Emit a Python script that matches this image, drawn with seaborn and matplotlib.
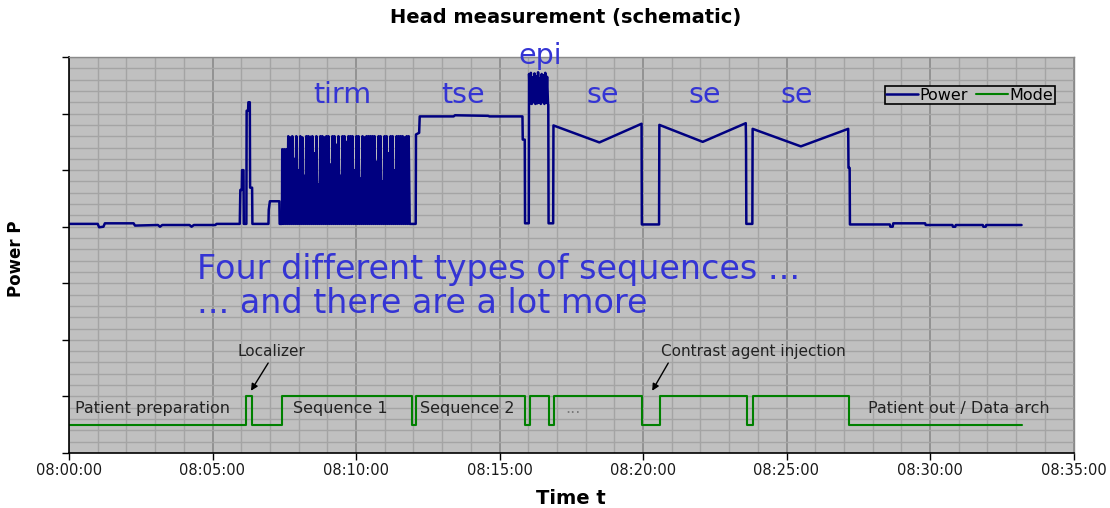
import numpy as np
import pandas as pd
import matplotlib
matplotlib.use("Agg")
import matplotlib.pyplot as plt
from matplotlib.ticker import MultipleLocator
import seaborn as sns

# ── Data (time in minutes after 08:00, power / mode in arbitrary units) ──
pre_t = [0.00, 1.00, 1.05, 1.20, 1.25, 2.25, 2.30, 3.10, 3.17, 3.25, 4.20, 4.27, 4.35, 5.10, 5.14, 5.95,
         5.97, 6.02, 6.03, 6.08, 6.09, 6.18, 6.19, 6.24, 6.25, 6.30, 6.31, 6.38, 6.39,
         6.95, 6.96, 7.00, 7.33, 7.34, 7.42]
pre_v = [4.05, 4.05, 3.99, 4.00, 4.06, 4.06, 4.02, 4.03, 4.00, 4.03, 4.03, 4.00, 4.03, 4.03, 4.05, 4.05,
         4.65, 4.65, 5.00, 5.00, 4.05, 4.05, 6.05, 6.05, 6.20, 6.20, 4.69, 4.69, 4.05,
         4.05, 4.30, 4.45, 4.45, 4.05, 4.05]

# tirm: peak of every RF pulse, the signal falls back to the baseline in between
tirm_tops = [5.37, 5.37, 5.37, 5.60, 5.58, 5.60, 5.20, 5.60, 5.00, 5.60, 5.58, 4.90, 5.60, 5.60, 5.59, 5.60,
             5.30, 5.60, 4.75, 5.60, 5.60, 5.58, 5.60, 5.60, 5.10, 5.60, 5.60, 5.45, 5.60, 4.90, 5.60, 5.60,
             5.50, 5.60, 5.60, 5.60, 5.00, 5.60, 5.60, 4.85, 5.60, 5.58, 5.60, 5.60, 5.60, 5.60, 5.60, 5.15,
             5.60, 5.60, 4.80, 5.60, 5.60, 5.30, 5.60, 5.60, 5.00, 5.60, 5.60, 5.60, 5.60, 5.58, 5.60, 5.60]
tirm_base = 4.05
tirm_start, tirm_end = 7.43, 11.87

mid_t = [11.88, 12.08, 12.09, 12.20, 12.22, 13.40, 13.45, 14.60, 14.65, 15.80, 15.81, 15.88, 15.89, 16.02]
mid_v = [4.05, 4.05, 5.63, 5.66, 5.95, 5.95, 5.97, 5.96, 5.95, 5.95, 5.54, 5.54, 4.06, 4.06]

epi_v = [6.70, 6.18, 6.72, 6.17, 6.64, 6.20, 6.71, 6.17, 6.66, 6.18, 6.73,
         6.19, 6.62, 6.17, 6.70, 6.20, 6.68, 6.17, 6.72, 6.19, 6.65, 6.17]
epi_start, epi_end = 16.03, 16.69

post_t = [16.70, 16.71, 16.87, 16.88, 18.48, 19.95, 19.96, 20.56, 20.57, 22.08, 23.58, 23.59, 23.60, 23.81,
          23.82, 25.50, 27.15, 27.16, 27.20, 27.21, 28.60, 28.62, 28.70, 28.72, 29.83, 29.85, 30.78, 30.80,
          30.88, 30.90, 31.84, 31.86, 31.94, 31.96, 33.19]
post_v = [6.16, 4.06, 4.06, 5.79, 5.49, 5.82, 4.04, 4.04, 5.80, 5.50, 5.83, 5.50, 4.05, 4.05,
          5.73, 5.42, 5.73, 5.04, 5.04, 4.04, 4.04, 4.00, 4.00, 4.06, 4.06, 4.03, 4.03, 4.00,
          4.00, 4.03, 4.03, 4.00, 4.00, 4.03, 4.03]

mode_t = [0.00, 6.17, 6.36, 7.41, 11.94, 12.09, 15.89, 16.06, 16.74, 16.91, 19.98, 20.59, 23.62, 23.82, 27.19, 33.22]
mode_v = [0.5, 1.0, 0.5, 1.0, 0.5, 1.0, 0.5, 1.0, 0.5, 1.0, 0.5, 1.0, 0.5, 1.0, 0.5, 0.5]

tick_minutes = [0, 5, 10, 15, 20, 25, 30, 35]
tick_labels = ["08:00:00", "08:05:00", "08:10:00", "08:15:00",
               "08:20:00", "08:25:00", "08:30:00", "08:35:00"]

seq_labels = ["tirm", "tse", "epi", "se", "se", "se"]
mode_labels = ["Patient preparation", "Sequence 1", "Sequence 2", "...", "Patient out / Data arch"]

# ── Assemble the power trace ────────────────────────────────
tirm_t = np.linspace(tirm_start, tirm_end, 2 * len(tirm_tops))
tirm_v = np.ravel([[top, tirm_base] for top in tirm_tops])
epi_t = np.linspace(epi_start, epi_end, len(epi_v))

power = pd.DataFrame({
    "t": np.concatenate([pre_t, tirm_t, mid_t, epi_t, post_t]),
    "P": np.concatenate([pre_v, tirm_v, mid_v, epi_v, post_v]),
})
mode = pd.DataFrame({"t": mode_t, "M": mode_v})

# ── Style ───────────────────────────────────────────────────
sns.set_style("ticks")
plt.rcParams["font.family"] = ["DejaVu Sans"]
plt.rcParams["text.color"] = "black"

fig = plt.figure(figsize=(11.1, 5.08), dpi=100)
ax = fig.add_axes([69 / 1110, 55 / 508, 1004.5 / 1110, 396 / 508])
ax.set_facecolor("#c0c0c0")

sns.lineplot(data=power, x="t", y="P", ax=ax, sort=False, estimator=None,
             color="#000080", linewidth=1.8, label="Power")
sns.lineplot(data=mode, x="t", y="M", ax=ax, sort=False, estimator=None,
             color="#008000", linewidth=1.5, drawstyle="steps-post", label="Mode")

ax.set_xlim(0, 35)
ax.set_ylim(0, 7)
ax.set_xticks(tick_minutes)
ax.set_xticklabels(tick_labels, fontsize=10.5, color="#1a1a1a")
ax.xaxis.set_minor_locator(MultipleLocator(1))
ax.yaxis.set_major_locator(MultipleLocator(1))
ax.yaxis.set_minor_locator(MultipleLocator(0.2))
ax.set_yticklabels([])
ax.tick_params(axis="both", which="major", direction="out", length=5, width=1, color="black")
ax.tick_params(axis="x", which="major", pad=2)
ax.tick_params(which="minor", length=0)

ax.set_axisbelow(True)
ax.grid(which="minor", color="#a4a4a4", linewidth=1.0)
ax.yaxis.grid(which="major", color="#a4a4a4", linewidth=1.0)
ax.xaxis.grid(which="major", color="#8a8a8a", linewidth=1.2)

for side in ["left", "bottom"]:
    ax.spines[side].set_color("black")
    ax.spines[side].set_linewidth(1.2)
for side in ["top", "right"]:
    ax.spines[side].set_color("#8a8a8a")
    ax.spines[side].set_linewidth(1.0)

ax.set_xlabel("Time t", fontsize=14, fontweight="bold", color="black")
ax.xaxis.set_label_coords(0.5, -0.09)
ax.set_ylabel("Power P", fontsize=12, fontweight="bold", color="black")
ax.yaxis.set_label_coords(-0.0438, 0.49)

fig.text(0.5095, 1 - 18 / 508, "Head measurement (schematic)",
         ha="center", va="center", fontsize=14, fontweight="bold", color="black")

# ── Sequence names above the trace ──────────────────────────
blue = "#3434d4"
for name, x, y in zip(seq_labels, [9.53, 13.74, 16.41, 18.6, 22.16, 25.37],
                      [6.19, 6.19, 6.87, 6.19, 6.19, 6.19]):
    ax.text(x, y, name, ha="center", va="baseline", fontsize=20.5, color=blue)

ax.text(4.46, 3.08, "Four different types of sequences ...", ha="left", va="baseline",
        fontsize=24, color=blue)
ax.text(4.46, 2.47, "... and there are a lot more", ha="left", va="baseline",
        fontsize=24, color=blue)

# ── Mode annotations ────────────────────────────────────────
grey_txt = "#222222"
for name, x in zip(mode_labels, [0.21, 7.8, 12.23, 17.28, 27.84]):
    ax.text(x, 0.78, name, ha="left", va="center", fontsize=11.5,
            color="#7a7a7a" if name == "..." else grey_txt)

arrow = dict(arrowstyle="-|>", color="black", lw=1.0, mutation_scale=10, shrinkA=0, shrinkB=0)
ax.text(7.07, 1.79, "Localizer", ha="center", va="center", fontsize=11, color=grey_txt)
ax.annotate("", xy=(6.34, 1.1), xytext=(6.94, 1.59), arrowprops=arrow)
ax.text(23.85, 1.79, "Contrast agent injection", ha="center", va="center",
        fontsize=11, color=grey_txt)
ax.annotate("", xy=(20.32, 1.1), xytext=(20.88, 1.59), arrowprops=arrow)

leg = ax.legend(loc="upper right", bbox_to_anchor=(0.9816, 0.9268), ncol=2, fontsize=11.5,
                frameon=True, fancybox=False, handlelength=2.0, handletextpad=0.1,
                columnspacing=0.5, borderpad=0.1, borderaxespad=0)
leg.get_frame().set_edgecolor("black")
leg.get_frame().set_facecolor("#c0c0c0")
leg.get_frame().set_linewidth(1.2)
leg.get_frame().set_alpha(1)

fig.savefig("out.png", dpi=100)
